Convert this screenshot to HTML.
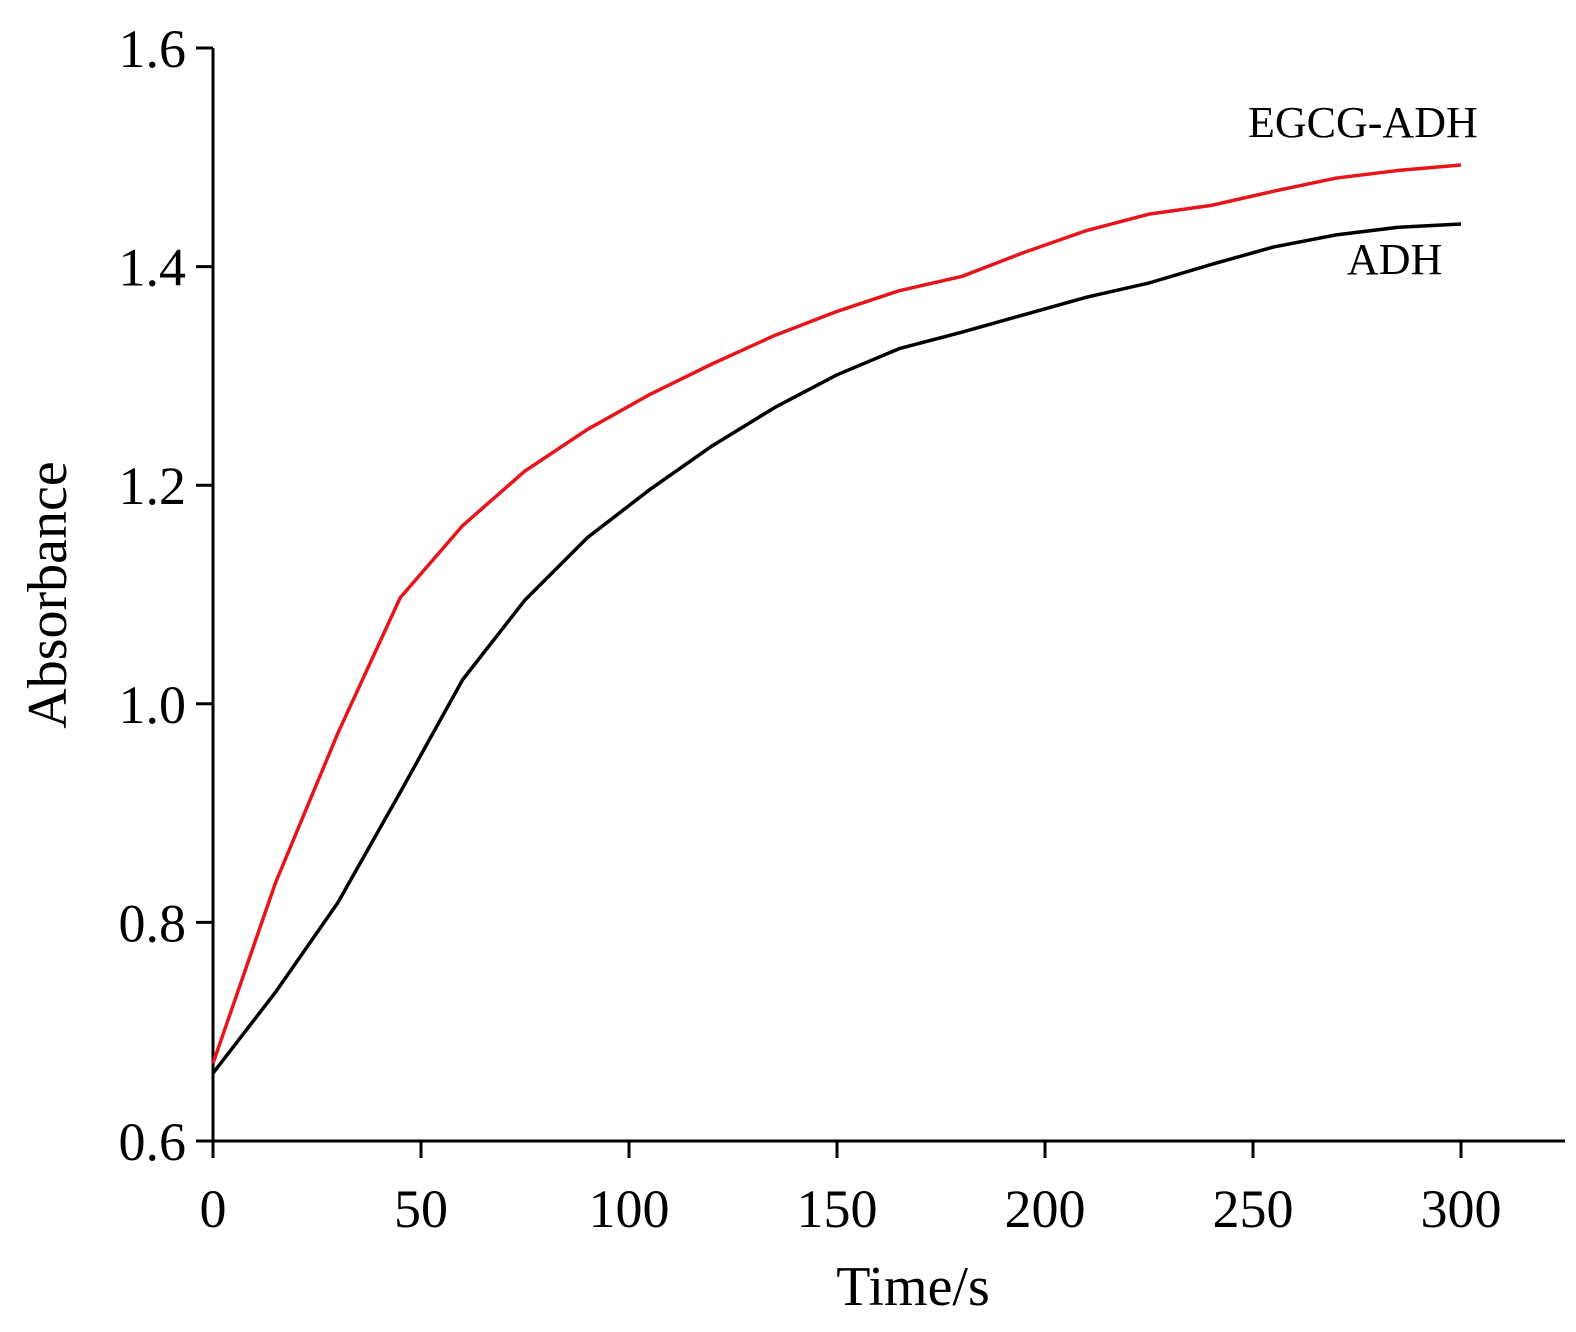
<!DOCTYPE html>
<html><head><meta charset="utf-8"><style>
html,body{margin:0;padding:0;background:#fff;}
svg{display:block;font-family:"Liberation Serif",serif;}
</style></head><body>
<svg id="chart" width="1576" height="1332" viewBox="0 0 1576 1332" xmlns="http://www.w3.org/2000/svg"></svg>
<script>
const times = [0,15,30,45,60,75,90,105,120,135,150,165,180,195,210,225,240,255,270,285,300];
const egcgAdh = [0.671,0.836,0.973,1.097,1.163,1.213,1.251,1.283,1.311,1.337,1.359,1.378,1.391,1.413,1.433,1.448,1.456,1.469,1.481,1.488,1.493];
const adh = [0.662,0.736,0.818,0.919,1.022,1.095,1.152,1.196,1.236,1.271,1.301,1.325,1.340,1.356,1.372,1.385,1.402,1.418,1.429,1.436,1.439];
const xTicks = [0,50,100,150,200,250,300];
const yTicks = [0.6,0.8,1.0,1.2,1.4,1.6];
const yTickLabels = ["0.6","0.8","1.0","1.2","1.4","1.6"];

const svg = document.getElementById('chart');
const NS = 'http://www.w3.org/2000/svg';
const x = v => 213 + (v - 0) * (1461 - 213) / 300;
const y = v => 1141 - (v - 0.6) * (1141 - 48) / 1.0;
function mk(tag, attrs, text){
  const e = document.createElementNS(NS, tag);
  for (const k in attrs) e.setAttribute(k, attrs[k]);
  if (text !== undefined) e.textContent = text;
  svg.appendChild(e);
  return e;
}
let e;
e = mk('line',{x1:213,y1:48,x2:213,y2:1141,stroke:'#000','stroke-width':3});


e = mk('line',{x1:213,y1:1141,x2:1565,y2:1141,stroke:'#000','stroke-width':3});


yTicks.forEach((t,i)=>{
  e = mk('line',{x1:196,y1:y(t),x2:213,y2:y(t),stroke:'#000','stroke-width':3});
  
  
  e = mk('text',{x:186,y:y(t)+19,'font-size':54,'text-anchor':'end'},yTickLabels[i]);
  
  
});
xTicks.forEach(t=>{
  e = mk('line',{x1:x(t),y1:1141,x2:x(t),y2:1158,stroke:'#000','stroke-width':3});
  
  
  e = mk('text',{x:x(t),y:1227,'font-size':54,'text-anchor':'middle'},String(t));
  
  
});
e = mk('text',{x:913,y:1305,'font-size':56,'text-anchor':'middle'},'Time/s');


e = mk('text',{x:0,y:0,'font-size':56,'text-anchor':'middle',transform:'translate(66,595) rotate(-90)'},'Absorbance');


function pts(arr){return arr.map((v,i)=>x(times[i])+','+y(v)).join(' ');}
e = mk('polyline',{points:pts(adh),fill:'none',stroke:'#000','stroke-width':3.5,'stroke-linejoin':'round'});


e = mk('polyline',{points:pts(egcgAdh),fill:'none',stroke:'#e8141c','stroke-width':3.5,'stroke-linejoin':'round'});


e = mk('text',{x:1248,y:137,'font-size':44},'EGCG-ADH');


e = mk('text',{x:1347,y:274,'font-size':44},'ADH');


</script>
</body></html>
